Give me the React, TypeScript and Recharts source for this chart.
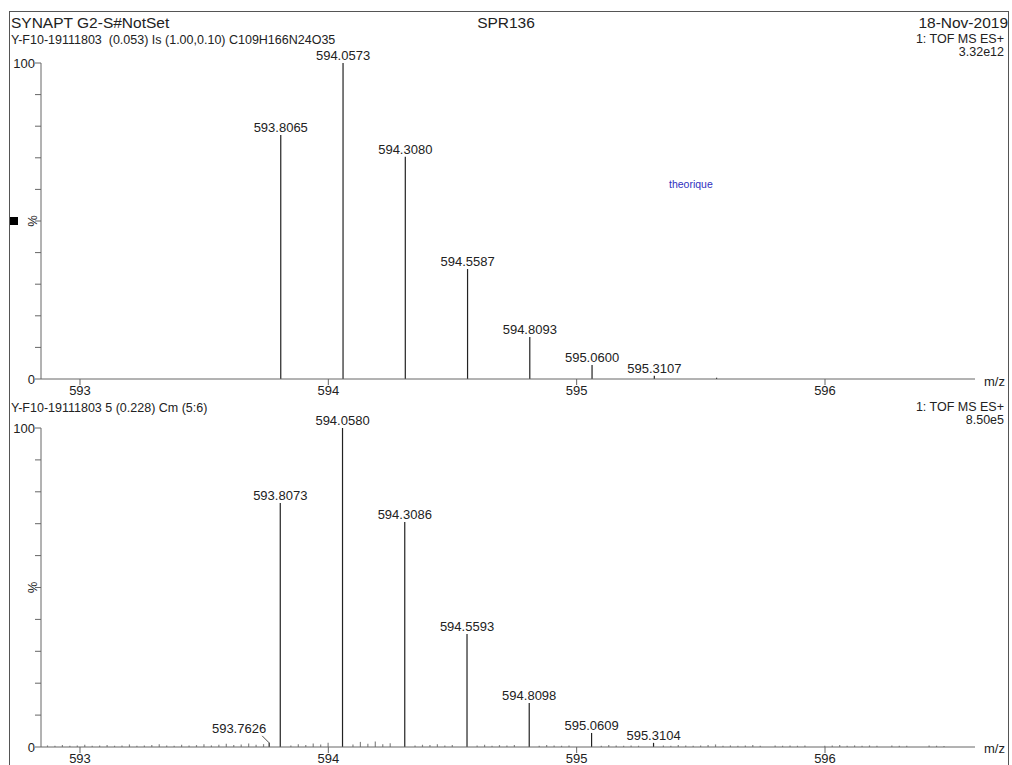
import { Bar, ComposedChart, LabelList, XAxis, YAxis } from "recharts";

// theoretical isotope pattern (top panel)
const theoMz = [593.8065, 594.0573, 594.308, 594.5587, 594.8093, 595.06, 595.3107, 595.5615];
const theoInt = [77.2, 100, 70.3, 34.8, 13.3, 4.4, 1.0, 0.4];
const theoLabels = ["593.8065", "594.0573", "594.3080", "594.5587", "594.8093", "595.0600", "595.3107", ""];

// measured spectrum (bottom panel)
const measMz = [593.7626, 593.8073, 594.058, 594.3086, 594.5593, 594.8098, 595.0609, 595.3104];
const measInt = [1.3, 76.5, 100, 70.5, 35.4, 13.8, 4.4, 1.3];
const measLabels = ["593.7626", "593.8073", "594.0580", "594.3086", "594.5593", "594.8098", "595.0609", "595.3104"];

// baseline noise, bottom panel
const noiseMz = [
  592.87, 592.9, 592.93, 592.96, 592.99, 593.02, 593.05, 593.08, 593.11, 593.14, 593.17, 593.2, 593.23,
  593.26, 593.29, 593.32, 593.35, 593.38, 593.41, 593.44, 593.47, 593.5, 593.53, 593.56, 593.59, 593.62,
  593.65, 593.68, 593.71, 593.74, 593.85, 593.88, 593.91, 593.94, 593.97, 594.0, 594.1, 594.13, 594.16,
  594.19, 594.22, 594.25, 594.35, 594.38, 594.41, 594.44, 594.47, 594.5, 594.6, 594.63, 594.66, 594.69,
  594.72, 594.75, 594.85, 594.88, 594.91, 594.94, 594.97, 595.1, 595.13, 595.16, 595.19, 595.22, 595.25,
  595.35, 595.38, 595.41, 595.44, 595.47, 595.5, 595.53, 595.56, 595.59, 595.62, 595.65, 595.68, 595.71,
  595.74, 595.8, 595.83, 595.86, 595.89, 595.92, 596.0, 596.03, 596.06, 596.09, 596.12, 596.15, 596.18,
  596.21, 596.27, 596.3, 596.33, 596.42, 596.45, 596.48,
];
const noiseInt = [
  0.5, 0.4, 0.6, 0.4, 0.5, 0.7, 0.4, 0.5, 0.6, 0.4, 0.5, 0.8, 0.4,
  0.5, 0.6, 0.9, 0.5, 0.4, 0.7, 0.5, 0.6, 0.9, 0.5, 0.7, 1.0, 0.6,
  0.8, 1.1, 0.7, 0.9, 0.5, 0.9, 0.6, 1.1, 0.8, 1.3, 0.8, 1.6, 1.0,
  1.7, 0.9, 1.2, 0.5, 0.7, 0.6, 0.9, 0.5, 0.6, 0.5, 0.7, 0.4, 0.6,
  0.5, 0.6, 0.4, 0.6, 0.5, 0.4, 0.5, 0.4, 0.6, 0.5, 0.4, 0.5, 0.4,
  0.5, 0.4, 0.6, 0.5, 0.4, 0.5, 0.6, 0.8, 0.4, 0.5, 0.4, 0.5, 0.6,
  0.4, 0.5, 0.4, 0.5, 0.4, 0.5, 0.4, 0.5, 0.6, 0.4, 0.5, 0.4, 0.5,
  0.4, 0.5, 0.4, 0.4, 0.5, 0.4, 0.3,
];

const xTicks = [593, 594, 595, 596];
const yTicks = [0, 10, 20, 30, 40, 50, 60, 70, 80, 90, 100];
const offsetLabels = ["593.7626"];

const FONT = '"Liberation Sans", Arial, Helvetica, sans-serif';
const INK = "#222";
const AXIS = "#666";

const topData = theoMz.map((mz, i) => ({ mz, value: theoInt[i], label: theoLabels[i] }));
const bottomData = [
  ...noiseMz.map((mz, i) => ({ mz, noise: noiseInt[i], label: "" })),
  ...measMz.map((mz, i) => ({ mz, value: measInt[i], label: measLabels[i] })),
].sort((a, b) => a.mz - b.mz);

function YTick(props: any) {
  const { x, y, payload } = props;
  const v = payload.value;
  if (v === 0 || v === 100) {
    return (
      <text x={x} y={y} dy={5} textAnchor="end" fontSize={13} fill={INK} fontFamily={FONT}>
        {v}
      </text>
    );
  }
  if (v === 50) {
    return (
      <text x={x - 2} y={y} dy={4} textAnchor="middle" fontSize={13} fill={INK} fontFamily={FONT}
        transform={`rotate(-90 ${x - 2} ${y})`}>
        %
      </text>
    );
  }
  return null;
}

function PeakLabel(props: any) {
  const { x, y, width, value } = props;
  if (!value) return null;
  const cx = x + width / 2;
  if (offsetLabels.includes(value)) {
    return (
      <g>
        <line x1={cx - 7} y1={y - 7} x2={cx} y2={y} stroke={INK} strokeWidth={0.8} />
        <text x={cx - 3} y={y - 10} textAnchor="end" fontSize={13} fill={INK} fontFamily={FONT}>
          {value}
        </text>
      </g>
    );
  }
  return (
    <text x={cx} y={y - 3} textAnchor="middle" fontSize={13} fill={INK} fontFamily={FONT}>
      {value}
    </text>
  );
}

function Spectrum({ data, height, plotH, top }: { data: any[]; height: number; plotH: number; top: number }) {
  return (
    <div style={{ position: "absolute", left: 0, top }}>
      <ComposedChart width={1012} height={height} data={data}
        margin={{ top: height - 30 - plotH, right: 37, bottom: 0, left: 0 }}
        style={{ overflow: "visible" }}>
        <XAxis dataKey="mz" type="number" domain={[592.843, 596.604]} allowDataOverflow ticks={xTicks}
          height={30} tickSize={6} tickMargin={1} axisLine={{ stroke: AXIS }} tickLine={{ stroke: AXIS }}
          tick={{ fill: INK, fontSize: 13, fontFamily: FONT }} />
        <YAxis type="number" domain={[0, 100]} allowDataOverflow ticks={yTicks} width={41} tickSize={6}
          tickMargin={0} interval={0} axisLine={{ stroke: AXIS }} tickLine={{ stroke: AXIS }} tick={<YTick />} />
        <Bar dataKey="noise" stackId="s" barSize={1.2} fill="#888" isAnimationActive={false} />
        <Bar dataKey="value" stackId="s" barSize={1.2} fill={INK} isAnimationActive={false}>
          <LabelList dataKey="label" content={<PeakLabel />} />
        </Bar>
      </ComposedChart>
    </div>
  );
}

const txt = (extra: any) => ({
  position: "absolute" as const,
  fontFamily: FONT,
  color: INK,
  whiteSpace: "nowrap" as const,
  lineHeight: 1,
  ...extra,
});

export default function App() {
  return (
    <div style={{ position: "absolute", left: 0, top: 0, width: 1012, height: 765, overflow: "hidden", background: "#fff" }}>
      <div style={{ position: "absolute", left: 9, top: 11, width: 998, height: 800, border: "1px solid #555" }} />
      <div style={txt({ left: 11, top: 15, fontSize: 15.5 })}>SYNAPT G2-S#NotSet</div>
      <div style={txt({ left: 0, width: 1012, top: 15, fontSize: 15.5, textAlign: "center" })}>SPR136</div>
      <div style={txt({ right: 4, top: 15, fontSize: 15.5 })}>18-Nov-2019</div>
      <div style={txt({ left: 11, top: 34, fontSize: 12.5 })}>Y-F10-19111803&nbsp;&nbsp;(0.053) Is (1.00,0.10) C109H166N24O35</div>
      <div style={txt({ right: 8, top: 33, fontSize: 12.5 })}>1: TOF MS ES+</div>
      <div style={txt({ right: 8, top: 46, fontSize: 12.5 })}>3.32e12</div>
      <div style={txt({ left: 669, top: 179, fontSize: 10.5, color: "#3030c0" })}>theorique</div>
      <div style={{ position: "absolute", left: 10, top: 217, width: 8, height: 8, background: "#000" }} />
      <div style={txt({ left: 984, top: 375, fontSize: 13 })}>m/z</div>

      <div style={txt({ left: 11, top: 402, fontSize: 12.5 })}>Y-F10-19111803 5 (0.228) Cm (5:6)</div>
      <div style={txt({ right: 8, top: 401, fontSize: 12.5 })}>1: TOF MS ES+</div>
      <div style={txt({ right: 8, top: 414, fontSize: 12.5 })}>8.50e5</div>
      <div style={txt({ left: 984, top: 742, fontSize: 13 })}>m/z</div>

      <Spectrum data={topData} height={409} plotH={316} top={0} />
      <Spectrum data={bottomData} height={377} plotH={319} top={400} />
    </div>
  );
}
